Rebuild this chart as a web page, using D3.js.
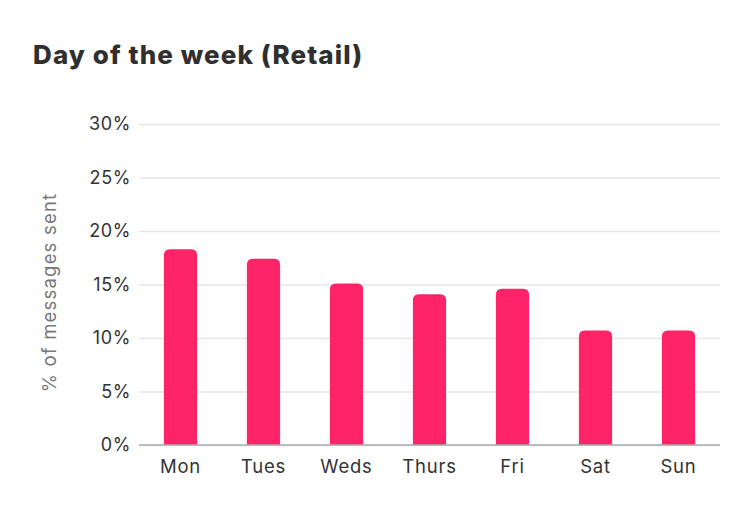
<!DOCTYPE html>
<html>
<head>
<meta charset="utf-8">
<script src="https://cdn.jsdelivr.net/npm/d3@7"></script>
<style>
  body { margin: 0; background: #fff; }
  svg { display: block; }
</style>
</head>
<body>
<svg id="chart" width="750" height="516"></svg>
<script>
const categories = ["Mon", "Tues", "Weds", "Thurs", "Fri", "Sat", "Sun"];
const values = [18.3, 17.4, 15.1, 14.1, 14.6, 10.7, 10.7];
const yTicks = [0, 5, 10, 15, 20, 25, 30];
const title = "Day of the week (Retail)";
const yTitle = "% of messages sent";

const svg = d3.select("#chart");
const margin = { left: 139, right: 30, top: 124, bottom: 71 };
const W = 750, H = 516;
const FONT = "Inter, 'Noto Sans', sans-serif";

const x = d3.scaleBand().domain(categories)
  .range([margin.left, W - margin.right])
  .paddingInner(0.6).paddingOuter(0.3);
const y = d3.scaleLinear().domain([0, 30]).range([H - margin.bottom, margin.top]);

svg.append("text")
  .attr("x", 33).attr("y", 64)
  .attr("font-family", FONT)
  .attr("font-weight", 800)
  .attr("font-size", 26)
  .attr("letter-spacing", 1.1)
  .attr("fill", "#2f2f2f")
  .text(title);

// gridlines
const yAxis = d3.axisLeft(y).tickValues(yTicks)
  .tickSize(-(W - margin.right - margin.left))
  .tickPadding(8)
  .tickFormat(d => d + "%");
const gy = svg.append("g").attr("transform", `translate(${margin.left},0)`).call(yAxis);
gy.select(".domain").remove();
gy.selectAll(".tick line").attr("stroke", "#e6e6e6").attr("stroke-width", 1.5);
gy.selectAll(".tick text")
  .attr("font-family", FONT)
  .attr("font-size", 18)
  .attr("letter-spacing", 0.6)
  .attr("fill", "#333")
  .attr("x", -8);

// bars with rounded tops
const r = 6;
svg.append("g").selectAll("path").data(values).join("path")
  .attr("fill", "#FF2368")
  .attr("d", (d, i) => {
    const x0 = x(categories[i]), w = x.bandwidth();
    const y0 = y(d), yb = y(0);
    return `M${x0},${yb} L${x0},${y0 + r} Q${x0},${y0} ${x0 + r},${y0} L${x0 + w - r},${y0} Q${x0 + w},${y0} ${x0 + w},${y0 + r} L${x0 + w},${yb} Z`;
  });

// baseline
svg.append("line")
  .attr("x1", margin.left).attr("x2", W - margin.right)
  .attr("y1", y(0)).attr("y2", y(0))
  .attr("stroke", "#aaa").attr("stroke-width", 1.5);

// x axis labels
const xAxis = d3.axisBottom(x).tickSize(0).tickPadding(15);
const gx = svg.append("g").attr("transform", `translate(0,${y(0)})`).call(xAxis);
gx.select(".domain").remove();
gx.selectAll(".tick text")
  .attr("font-family", FONT)
  .attr("font-size", 18.5)
  .attr("letter-spacing", 0.8)
  .attr("fill", "#333");

// y title
svg.append("text")
  .attr("transform", `translate(56,${(y(0) + y(30)) / 2 + 8}) rotate(-90)`)
  .attr("text-anchor", "middle")
  .attr("font-family", FONT)
  .attr("font-size", 18.5)
  .attr("letter-spacing", 1.2)
  .attr("fill", "#777")
  .text(yTitle);
</script>
</body>
</html>
